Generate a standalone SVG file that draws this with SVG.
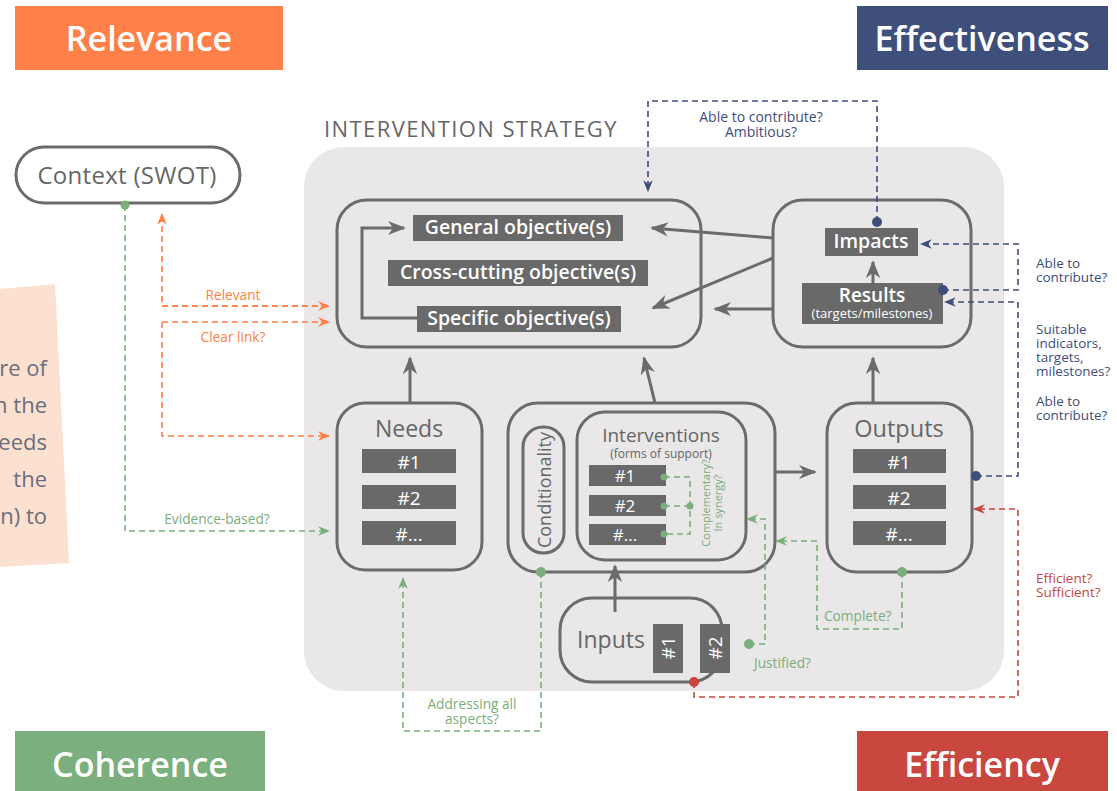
<svg xmlns="http://www.w3.org/2000/svg" width="1117" height="791" viewBox="0 0 1117 791">
<defs>
<style>
text{font-family:"Open Sans","Noto Sans","Liberation Sans",sans-serif}
.box{fill:none;stroke:#6b6b6b;stroke-width:3}
.wbox{fill:#fff;stroke:#6b6b6b;stroke-width:3}
.dk{fill:#696969}
.wt{fill:#fff;text-anchor:middle;font-weight:600}
.gt{fill:#666;text-anchor:middle}
.hdr{fill:#fff;font-size:34px;text-anchor:middle;font-weight:600}
.sol{fill:none;stroke:#6b6b6b;stroke-width:3}
.dg{fill:none;stroke:#7aae7b;stroke-width:1.6;stroke-dasharray:6 4}
.do{fill:none;stroke:#ff7f45;stroke-width:1.6;stroke-dasharray:6 4}
.db{fill:none;stroke:#3f4d7c;stroke-width:1.6;stroke-dasharray:6 4}
.dr{fill:none;stroke:#c8463e;stroke-width:1.6;stroke-dasharray:6 4}
.lg{fill:#7aae7b;font-size:13.7px}
.lo{fill:#ff7f45;font-size:13.7px}
.lb{fill:#3f4d7c;font-size:13.5px}
.lr{fill:#c8463e;font-size:13.5px}
</style>
<marker id="ag" viewBox="0 0 10 10" refX="9" refY="5" markerWidth="12" markerHeight="12" markerUnits="userSpaceOnUse" orient="auto"><path d="M0,1 L10,5 L0,9 L3,5 Z" fill="#7aae7b"/></marker>
<marker id="ao" viewBox="0 0 10 10" refX="9" refY="5" markerWidth="12" markerHeight="12" markerUnits="userSpaceOnUse" orient="auto"><path d="M0,1 L10,5 L0,9 L3,5 Z" fill="#ff7f45"/></marker>
<marker id="ab" viewBox="0 0 10 10" refX="9" refY="5" markerWidth="12" markerHeight="12" markerUnits="userSpaceOnUse" orient="auto"><path d="M0,1 L10,5 L0,9 L3,5 Z" fill="#3f4d7c"/></marker>
<marker id="ar" viewBox="0 0 10 10" refX="9" refY="5" markerWidth="12" markerHeight="12" markerUnits="userSpaceOnUse" orient="auto"><path d="M0,1 L10,5 L0,9 L3,5 Z" fill="#c8463e"/></marker>
<marker id="as" viewBox="0 0 10 10" refX="9" refY="5" markerWidth="6" markerHeight="6" orient="auto"><path d="M0,1 L10,5 L0,9 L3,5 Z" fill="#6b6b6b"/></marker>
<clipPath id="sideclip"><rect x="0" y="0" width="70" height="791"/></clipPath>
</defs>
<rect width="1117" height="791" fill="#fff"/>

<!-- peach side box -->
<g id="sidebox" clip-path="url(#sideclip)">
<polygon points="0,289 55,284 69,563 0,567" fill="#fce0d0"/>
<g fill="#6b6f7a" font-size="22" text-anchor="end">
<text x="47" y="376">re of</text>
<text x="47" y="413">n the</text>
<text x="47" y="450">eeds</text>
<text x="47" y="487">the</text>
<text x="47" y="524">n)  to</text>
</g>
</g>

<!-- headers -->
<g id="relevance"><rect x="15" y="6" width="268" height="64" fill="#ff8049"/><text class="hdr" x="149" y="51">Relevance</text></g>
<g id="effectiveness"><rect x="857" y="6" width="251" height="64" fill="#3f4f7c"/><text class="hdr" x="982" y="51">Effectiveness</text></g>
<g id="coherence"><rect x="15" y="731" width="250" height="60" fill="#7bb07e"/><text class="hdr" x="140" y="777">Coherence</text></g>
<g id="efficiency"><rect x="857" y="731" width="251" height="60" fill="#c9473f"/><text class="hdr" x="982" y="777">Efficiency</text></g>

<!-- strategy background -->
<g id="strategy">
<rect x="304" y="147" width="700" height="544" rx="40" fill="#e9e7e8"/>
<text x="324" y="137" fill="#666" font-size="22" letter-spacing="1.4">INTERVENTION STRATEGY</text>
</g>

<!-- context -->
<g id="context">
<rect class="wbox" x="16" y="147" width="224" height="56" rx="28"/>
<text class="gt" x="127" y="184" font-size="24" letter-spacing="0.3">Context (SWOT)</text>
</g>

<!-- objectives -->
<g id="objectives">
<rect class="box" x="337" y="200" width="364" height="147" rx="30"/>
<rect class="dk" x="413" y="215" width="210" height="26"/>
<text class="wt" x="518" y="234" font-size="19.5">General objective(s)</text>
<rect class="dk" x="388" y="260" width="260" height="26"/>
<text class="wt" x="518" y="279" font-size="19.5">Cross-cutting objective(s)</text>
<rect class="dk" x="417" y="306" width="204" height="26"/>
<text class="wt" x="519" y="325" font-size="19.5">Specific objective(s)</text>
</g>

<!-- impacts / results -->
<g id="impacts-results">
<rect class="box" x="773" y="200" width="198" height="147" rx="30"/>
<rect class="dk" x="825" y="228" width="93" height="28"/>
<text class="wt" x="871" y="248" font-size="19.5">Impacts</text>
<rect class="dk" x="802" y="283" width="141" height="41"/>
<text class="wt" x="872" y="302" font-size="19">Results</text>
<text x="872" y="318" font-size="13" fill="#fff" text-anchor="middle">(targets/milestones)</text>
</g>

<!-- needs -->
<g id="needs">
<rect class="box" x="337" y="403" width="145" height="167" rx="28"/>
<text class="gt" x="409" y="437" font-size="23">Needs</text>
<rect class="dk" x="362" y="449" width="94" height="24"/><text class="wt" x="409" y="469" font-size="19" style="font-weight:400">#1</text>
<rect class="dk" x="362" y="485" width="94" height="24"/><text class="wt" x="409" y="505" font-size="19" style="font-weight:400">#2</text>
<rect class="dk" x="362" y="521" width="94" height="24"/><text class="wt" x="409" y="541" font-size="19" style="font-weight:400">#...</text>
</g>

<!-- interventions group -->
<g id="interventions">
<rect class="box" x="508" y="403" width="267" height="169" rx="30"/>
<rect class="box" x="523" y="427" width="41" height="126" rx="20"/>
<text class="gt" transform="translate(551,490) rotate(-90)" font-size="18">Conditionality</text>
<rect class="box" x="577" y="412" width="169" height="148" rx="28"/>
<text class="gt" x="661" y="442" font-size="19">Interventions</text>
<text class="gt" x="661" y="458" font-size="12">(forms of support)</text>
<rect class="dk" x="589" y="465" width="77" height="21"/><text class="wt" x="625" y="482" font-size="17" style="font-weight:400">#1</text>
<rect class="dk" x="589" y="495" width="77" height="21"/><text class="wt" x="625" y="512" font-size="17" style="font-weight:400">#2</text>
<rect class="dk" x="589" y="524" width="77" height="21"/><text class="wt" x="625" y="541" font-size="17" style="font-weight:400">#...</text>
<path class="dg" d="M664,477 H690 V534 H664 M664,506 H690"/>
<g fill="#7aae7b"><circle cx="664" cy="477" r="3.5"/><circle cx="664" cy="506" r="3.5"/><circle cx="664" cy="534" r="3.5"/><circle cx="690" cy="506" r="3.5"/></g>
<text class="lg" transform="translate(710,503) rotate(-90)" text-anchor="middle" style="font-size:11px">Complementary?</text>
<text class="lg" transform="translate(722,503) rotate(-90)" text-anchor="middle" style="font-size:11px">In synergy?</text>
</g>

<!-- outputs -->
<g id="outputs">
<rect class="box" x="827" y="403" width="145" height="169" rx="30"/>
<text class="gt" x="899" y="437" font-size="23.5">Outputs</text>
<rect class="dk" x="853" y="449" width="93" height="24"/><text class="wt" x="899" y="469" font-size="19" style="font-weight:400">#1</text>
<rect class="dk" x="853" y="485" width="93" height="24"/><text class="wt" x="899" y="505" font-size="19" style="font-weight:400">#2</text>
<rect class="dk" x="853" y="521" width="93" height="24"/><text class="wt" x="899" y="541" font-size="19" style="font-weight:400">#...</text>
</g>

<!-- inputs -->
<g id="inputs">
<rect class="box" x="560" y="598" width="162" height="84" rx="32"/>
<text class="gt" x="611" y="648" font-size="23">Inputs</text>
<rect class="dk" x="653" y="624" width="30" height="49"/>
<text class="wt" transform="translate(675,648) rotate(-90)" font-size="19" style="font-weight:400">#1</text>
<rect class="dk" x="700" y="624" width="30" height="49"/>
<text class="wt" transform="translate(722,648) rotate(-90)" font-size="19" style="font-weight:400">#2</text>
</g>

<!-- connectors -->
<g id="connectors">
<!-- solid -->
<path class="sol" d="M417,318 H362 V228 H404" marker-end="url(#as)"/>
<path class="sol" d="M773,238 L652,228" marker-end="url(#as)"/>
<path class="sol" d="M773,258 L653,308" marker-end="url(#as)"/>
<path class="sol" d="M773,309 H715" marker-end="url(#as)"/>
<path class="sol" d="M873,283 V262" marker-end="url(#as)"/>
<path class="sol" d="M410,403 V358" marker-end="url(#as)"/>
<path class="sol" d="M655,403 L644,358" marker-end="url(#as)"/>
<path class="sol" d="M873,403 V358" marker-end="url(#as)"/>
<path class="sol" d="M775,472 H815" marker-end="url(#as)"/>
<path class="sol" d="M615,612 V566" marker-end="url(#as)"/>

<!-- orange -->
<path class="do" d="M328,306 H162 V214" marker-end="url(#ao)"/>
<path class="do" d="M162,306 H329" marker-end="url(#ao)"/>
<path class="do" d="M162,322 H329" marker-end="url(#ao)"/>
<path class="do" d="M162,322 V436 H329" marker-end="url(#ao)"/>
<text class="lo" x="233" y="300" text-anchor="middle">Relevant</text>
<text class="lo" x="233" y="342" text-anchor="middle">Clear link?</text>

<!-- green -->
<path class="dg" d="M125,205 V531 H329" marker-end="url(#ag)"/>
<circle cx="125" cy="205" r="4.5" fill="#7aae7b"/>
<text class="lg" x="217" y="524" text-anchor="middle">Evidence-based?</text>
<path class="dg" d="M541,572 V731 H403 V578" marker-end="url(#ag)"/>
<circle cx="541" cy="572" r="5" fill="#7aae7b"/>
<text class="lg" x="472" y="709" text-anchor="middle">Addressing all</text>
<text class="lg" x="472" y="724" text-anchor="middle">aspects?</text>
<path class="dg" d="M749,644 H765 V519 H747" marker-end="url(#ag)"/>
<circle cx="749" cy="644" r="5" fill="#7aae7b"/>
<text class="lg" x="754" y="668">Justified?</text>
<path class="dg" d="M902,572 V629 H817 V541 H776" marker-end="url(#ag)"/>
<circle cx="902" cy="572" r="5" fill="#7aae7b"/>
<text class="lg" x="824" y="621">Complete?</text>

<!-- blue -->
<path class="db" d="M877,222 V101 H648 V191" marker-end="url(#ab)"/>
<circle cx="877" cy="222" r="5" fill="#3f4d7c"/>
<text class="lb" x="761" y="122" text-anchor="middle" style="font-size:14px">Able to contribute?</text>
<text class="lb" x="761" y="137" text-anchor="middle" style="font-size:14px">Ambitious?</text>
<path class="db" d="M943,290 H1018 V244 H921" marker-end="url(#ab)"/>
<circle cx="943" cy="290" r="5" fill="#3f4d7c"/>
<path class="db" d="M976,476 H1018 V302 H945" marker-end="url(#ab)"/>
<circle cx="976" cy="476" r="5" fill="#3f4d7c"/>
<text class="lb" x="1036" y="268">Able to</text>
<text class="lb" x="1036" y="282">contribute?</text>
<text class="lb" x="1036" y="334">Suitable</text>
<text class="lb" x="1036" y="348">indicators,</text>
<text class="lb" x="1036" y="362">targets,</text>
<text class="lb" x="1036" y="376">milestones?</text>
<text class="lb" x="1036" y="406">Able to</text>
<text class="lb" x="1036" y="420">contribute?</text>

<!-- red -->
<path class="dr" d="M694,682 V697 H1018 V509 H974" marker-end="url(#ar)"/>
<circle cx="694" cy="682" r="5" fill="#c8463e"/>
<text class="lr" x="1036" y="583">Efficient?</text>
<text class="lr" x="1036" y="597">Sufficient?</text>
</g>
</svg>
